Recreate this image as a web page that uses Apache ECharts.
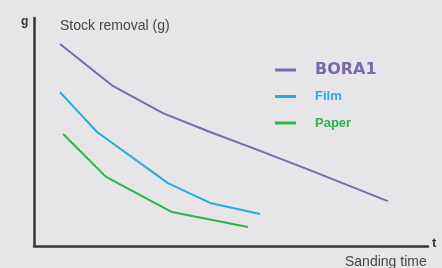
<!DOCTYPE html>
<html>
<head>
<meta charset="utf-8">
<script src="https://cdn.jsdelivr.net/npm/echarts@6/dist/echarts.min.js"></script>
<style>
  html, body { margin: 0; padding: 0; background: #e6e6e8; }
  #chart { width: 442px; height: 268px; }
</style>
</head>
<body>
<div id="chart"></div>
<script>
// sanding time (arbitrary units 0-100) / stock removal (arbitrary units 0-100)
const boraTime = [6.6, 20, 32.7, 44.7, 57.4, 70, 89.8];
const boraRemoval = [88.6, 70.2, 58.3, 50, 41.7, 33.3, 19.7];
const filmTime = [6.6, 16, 34, 44.7, 57.4];
const filmRemoval = [67.5, 50, 27.6, 18.9, 14];
const paperTime = [7.4, 18.3, 35, 54.3];
const paperRemoval = [49.1, 30.3, 14.9, 8.3];
const seriesNames = ['BORA1', 'Film', 'Paper'];

const colors = ['#7a6aa9', '#27a9e1', '#2fb24b'];
const zip = (xs, ys) => xs.map((x, i) => [x, ys[i]]);

const chart = echarts.init(document.getElementById('chart'));

chart.setOption({
    backgroundColor: '#e6e6e8',
    animation: false,
    grid: {
        left: 34,
        top: 18,
        right: 14,
        bottom: 22
    },
    xAxis: {
        type: 'value',
        min: 0,
        max: 100,
        axisLine: { lineStyle: { color: '#3a3536', width: 2.5 } },
        axisTick: { show: false },
        axisLabel: { show: false },
        splitLine: { show: false }
    },
    yAxis: {
        type: 'value',
        min: 0,
        max: 100,
        axisLine: { show: true, lineStyle: { color: '#3a3536', width: 2.5 } },
        axisTick: { show: false },
        axisLabel: { show: false },
        splitLine: { show: false }
    },
    legend: {
        left: 270,
        top: 57,
        orient: 'vertical',
        icon: 'rect',
        itemWidth: 21,
        itemHeight: 3,
        itemGap: 10.5,
        textStyle: {
            fontFamily: 'Liberation Sans',
            fontWeight: 'bold',
            fontSize: 13,
            lineHeight: 16,
            padding: [0, 0, 0, 14]
        },
        data: [
            { name: seriesNames[0], textStyle: { color: colors[0], fontSize: 16, fontFamily: 'DejaVu Sans', letterSpacing: 1 } },
            { name: seriesNames[1], textStyle: { color: colors[1] } },
            { name: seriesNames[2], textStyle: { color: colors[2] } }
        ]
    },
    graphic: [
        {
            type: 'text', left: 21, top: 16,
            style: { text: 'g', fill: '#3a3536', font: 'bold 12px Liberation Sans' }
        },
        {
            type: 'text', left: 60, top: 19,
            style: { text: 'Stock removal (g)', fill: '#4a4546', font: '14px Liberation Sans' }
        },
        {
            type: 'text', left: 432, top: 237,
            style: { text: 't', fill: '#3a3536', font: 'bold 13px Liberation Sans' }
        },
        {
            type: 'text', left: 345, top: 255,
            style: { text: 'Sanding time', fill: '#4a4546', font: '14px Liberation Sans' }
        }
    ],
    series: [
        {
            name: seriesNames[0],
            type: 'line',
            data: zip(boraTime, boraRemoval),
            symbol: 'none',
            lineStyle: { width: 2, color: colors[0] },
            itemStyle: { color: colors[0] }
        },
        {
            name: seriesNames[1],
            type: 'line',
            data: zip(filmTime, filmRemoval),
            symbol: 'none',
            lineStyle: { width: 2, color: colors[1] },
            itemStyle: { color: colors[1] }
        },
        {
            name: seriesNames[2],
            type: 'line',
            data: zip(paperTime, paperRemoval),
            symbol: 'none',
            lineStyle: { width: 2, color: colors[2] },
            itemStyle: { color: colors[2] }
        }
    ]
});
</script>
</body>
</html>
